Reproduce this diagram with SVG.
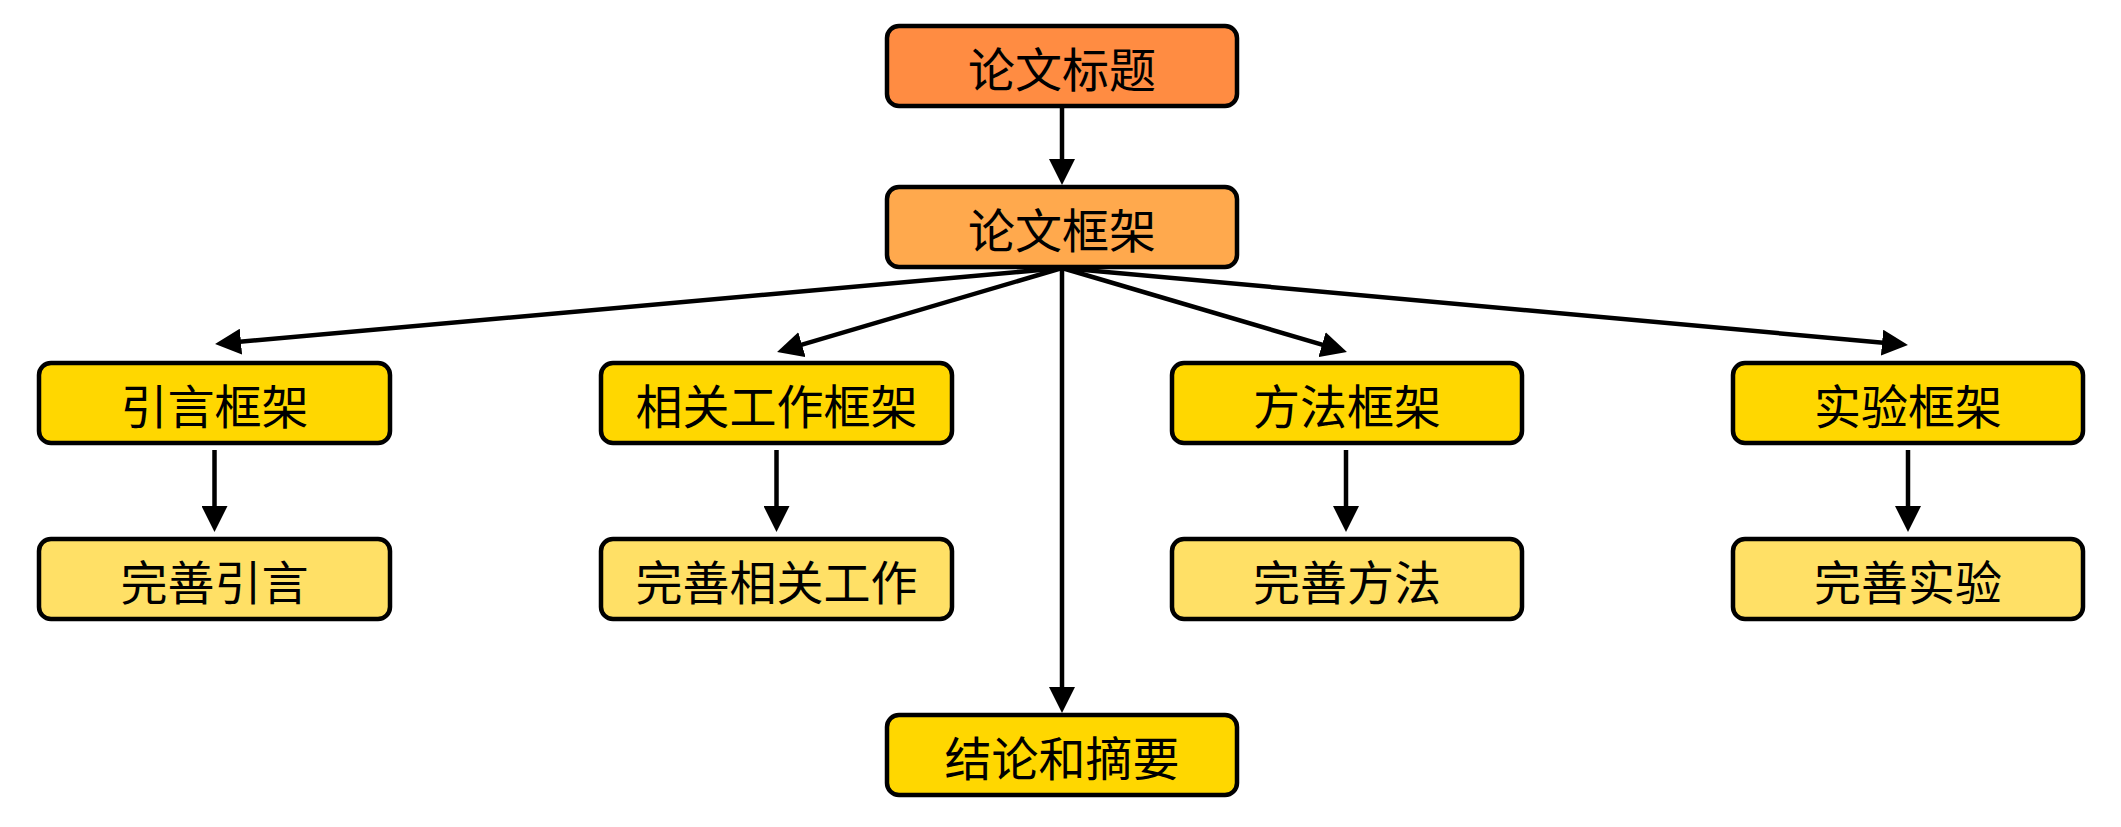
<svg xmlns="http://www.w3.org/2000/svg" width="2121" height="827" viewBox="0 0 2121 827">
<style>
.box{stroke:#000;stroke-width:4.5}
.t1{fill:#FF8C42}
.t2{fill:#FFA94D}
.y1{fill:#FFD700}
.y2{fill:#FFE066}
.lbl{font-family:"Noto Sans CJK SC","Noto Sans",sans-serif;font-size:47px;fill:#000;text-anchor:middle;dominant-baseline:central}
.edge{stroke:#000;stroke-width:4.5;fill:none;marker-end:url(#arr)}
</style>
<defs>
<marker id="arr" markerUnits="userSpaceOnUse" markerWidth="26" markerHeight="26" viewBox="0 0 26 26" refX="15" refY="13" orient="auto">
<path d="M0,0 L26,13 L0,26 z" fill="#000"/>
</marker>
</defs>
<rect width="2121" height="827" fill="#fff"/>
<g id="connectors">
<line class="edge" x1="1062" y1="106" x2="1062" y2="174"/>
<line class="edge" x1="1062" y1="268" x2="226" y2="343"/>
<line class="edge" x1="1062" y1="268" x2="787.6" y2="348.9"/>
<line class="edge" x1="1062" y1="268" x2="1336.4" y2="348.9"/>
<line class="edge" x1="1062" y1="268" x2="1897" y2="344"/>
<line class="edge" x1="1062" y1="268" x2="1062" y2="702"/>
<line class="edge" x1="214.5" y1="450" x2="214.5" y2="521"/>
<line class="edge" x1="776.5" y1="450" x2="776.5" y2="521"/>
<line class="edge" x1="1346" y1="450" x2="1346" y2="521"/>
<line class="edge" x1="1908" y1="450" x2="1908" y2="521"/>
</g>
<g id="title">
<rect class="box t1" x="887" y="26" width="350" height="80" rx="12"/>
<text class="lbl" x="1062" y="66">论文标题</text>
</g>
<g id="framework">
<rect class="box t2" x="887" y="187" width="350" height="80" rx="12"/>
<text class="lbl" x="1062" y="227">论文框架</text>
</g>
<g id="intro">
<rect class="box y1" x="39" y="363" width="351" height="80" rx="12"/>
<text class="lbl" x="214.5" y="403">引言框架</text>
</g>
<g id="related">
<rect class="box y1" x="601" y="363" width="351" height="80" rx="12"/>
<text class="lbl" x="776.5" y="403">相关工作框架</text>
</g>
<g id="method">
<rect class="box y1" x="1172" y="363" width="350" height="80" rx="12"/>
<text class="lbl" x="1347" y="403">方法框架</text>
</g>
<g id="experiment">
<rect class="box y1" x="1733" y="363" width="350" height="80" rx="12"/>
<text class="lbl" x="1908" y="403">实验框架</text>
</g>
<g id="intro2">
<rect class="box y2" x="39" y="539" width="351" height="80" rx="12"/>
<text class="lbl" x="214.5" y="579">完善引言</text>
</g>
<g id="related2">
<rect class="box y2" x="601" y="539" width="351" height="80" rx="12"/>
<text class="lbl" x="776.5" y="579">完善相关工作</text>
</g>
<g id="method2">
<rect class="box y2" x="1172" y="539" width="350" height="80" rx="12"/>
<text class="lbl" x="1347" y="579">完善方法</text>
</g>
<g id="experiment2">
<rect class="box y2" x="1733" y="539" width="350" height="80" rx="12"/>
<text class="lbl" x="1908" y="579">完善实验</text>
</g>
<g id="conclusion">
<rect class="box y1" x="887" y="715" width="350" height="80" rx="12"/>
<text class="lbl" x="1062" y="755">结论和摘要</text>
</g>
</svg>
